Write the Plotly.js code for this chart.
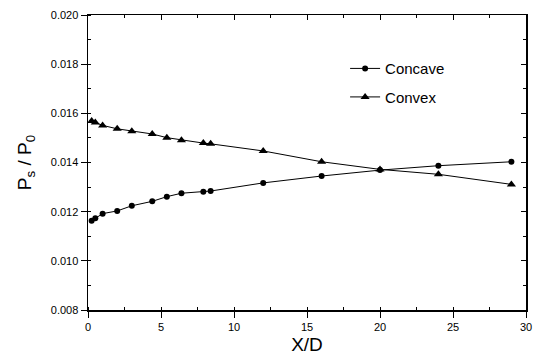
<!DOCTYPE html>
<html><head><meta charset="utf-8">
<script src="https://cdn.plot.ly/plotly-3.0.1.min.js"></script>
<style>html,body{margin:0;padding:0;background:#fff}</style>
</head><body>
<div id="chart" style="width:541px;height:364px"></div>
<script>
const xConcave = [0.25, 0.5, 1, 2, 3, 4.4, 5.4, 6.4, 7.9, 8.4, 12, 16, 20, 24, 29];
const yConcave = [0.01163, 0.01173, 0.01192, 0.01203, 0.01224, 0.01242, 0.01261, 0.01275, 0.01281, 0.01284, 0.01317, 0.01345, 0.01369, 0.01387, 0.01403];
const xConvex = [0.25, 0.5, 1, 2, 3, 4.4, 5.4, 6.4, 7.9, 8.4, 12, 16, 20, 24, 29];
const yConvex = [0.01569, 0.01563, 0.01551, 0.01537, 0.01527, 0.01516, 0.01501, 0.01491, 0.01479, 0.01476, 0.01447, 0.01403, 0.01372, 0.01352, 0.01311];
const names = ["Concave", "Convex"];

const font = {family: "Liberation Sans, Arial, sans-serif", color: "#000"};
const traces = [
  {x: xConcave, y: yConcave, name: names[0], legendgroup: "a", mode: "lines+markers", type: "scatter",
   line: {color: "#000", width: 1}, marker: {symbol: "circle", size: 6, color: "#000"}},
  {x: xConvex, y: yConvex, name: names[1], legendgroup: "b", mode: "lines+markers", type: "scatter",
   line: {color: "#000", width: 1}, marker: {symbol: "triangle-up", size: 8, color: "#000"}}
];
const axBase = {showgrid: false, zeroline: false, showline: true, linecolor: "#000", linewidth: 1.5,
  tickcolor: "#000", tickwidth: 1, tickfont: Object.assign({size: 11}, font)};
const layout = {
  width: 541, height: 364,
  margin: {l: 88, r: 15, t: 15, b: 54},
  paper_bgcolor: "#fff", plot_bgcolor: "#fff",
  font: font,
  showlegend: true,
  legend: {x: 0.587, y: 0.874, xanchor: "left", yanchor: "top", bgcolor: "rgba(0,0,0,0)",
    font: Object.assign({size: 15}, font), traceorder: "grouped", tracegroupgap: 6, itemwidth: 30},
  xaxis: Object.assign({}, axBase, {range: [0, 30], dtick: 5, ticks: "outside", ticklen: 6,
    minor: {dtick: 2.5, ticks: "inside", ticklen: 3, tickcolor: "#000"},
    title: {text: "X/D", font: Object.assign({size: 19}, font), standoff: 6}}),
  yaxis: Object.assign({}, axBase, {range: [0.008, 0.020], dtick: 0.002, tickformat: ".3f",
    ticks: "outside", ticklen: 6,
    minor: {dtick: 0.001, ticks: "inside", ticklen: 3, tickcolor: "#000"},
    title: {text: "P<sub>s</sub> / P<sub>0</sub>", font: Object.assign({size: 19}, font), standoff: 14}}),
  xaxis2: Object.assign({}, axBase, {range: [0, 30], dtick: 5, overlaying: "x", side: "top",
    ticks: "inside", ticklen: 5, showticklabels: false, minor: {dtick: 2.5, ticks: "inside", ticklen: 3}}),
  yaxis2: Object.assign({}, axBase, {range: [0.008, 0.020], dtick: 0.002, overlaying: "y", side: "right",
    ticks: "inside", ticklen: 5, showticklabels: false, minor: {dtick: 0.001, ticks: "inside", ticklen: 3}})
};
traces.push({x: [], y: [], xaxis: "x2", yaxis: "y2", showlegend: false, type: "scatter", hoverinfo: "skip"});
Plotly.newPlot("chart", traces, layout, {staticPlot: true});
</script>
</body></html>
